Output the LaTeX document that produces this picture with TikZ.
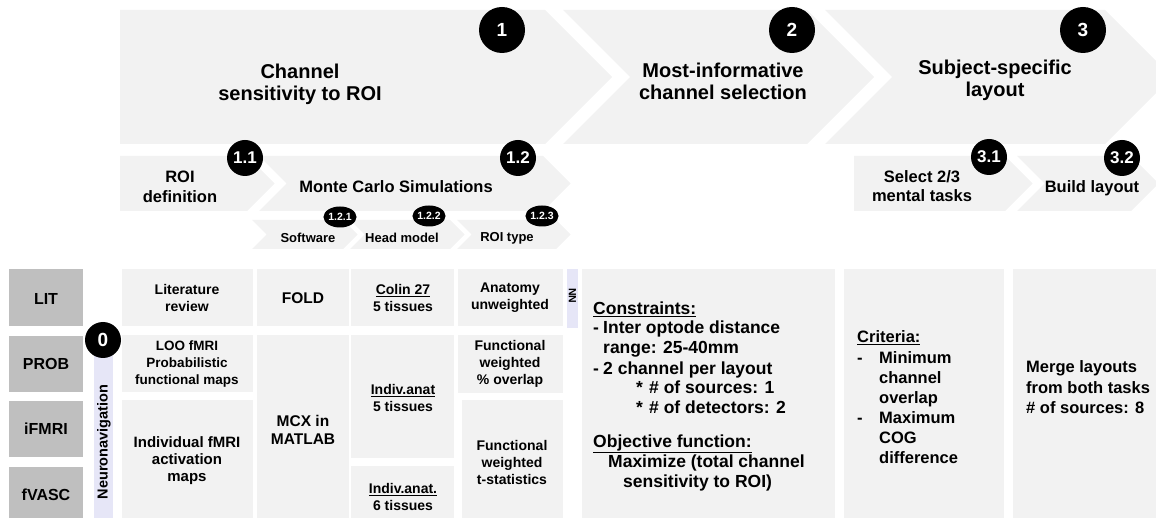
\documentclass[tikz,border=0pt]{standalone}
\usepackage{fontspec}
\setmainfont{Liberation Sans}
\usetikzlibrary{shapes.geometric}
\definecolor{panel}{HTML}{F2F2F2}
\definecolor{tagfill}{HTML}{BFBFBF}
\definecolor{navfill}{HTML}{E6E6F7}
\newcommand\fsz[2]{\fontsize{#1}{#2}\selectfont\bfseries}
\begin{document}
\begin{tikzpicture}[x=1pt,y=-1pt,
  title/.style={align=center,inner sep=0,font=\fsz{20}{22}},
  sub/.style={align=center,inner sep=0,font=\fsz{16.5}{19.5}},
  subsub/.style={align=center,inner sep=0,font=\fsz{13}{15}},
  celltxt/.style={align=center,inner sep=0,font=\fsz{14}{17}},
  bigcell/.style={align=center,inner sep=0,font=\fsz{15.5}{18}},
  tagtxt/.style={align=center,inner sep=0,font=\fsz{16}{18}},
  txtline/.style={anchor=base west,inner sep=0,font=\fsz{17.5}{20}},
  critline/.style={anchor=base west,inner sep=0,font=\fsz{16.5}{20}},
  badgeL/.style={circle,fill=black,text=white,inner sep=0,minimum size=46,font=\fsz{19}{20}},
  badgeM/.style={circle,fill=black,text=white,inner sep=0,minimum size=36,font=\fsz{17}{18}},
  badgeS/.style={ellipse,fill=black,text=white,inner sep=0,minimum width=31,minimum height=21,font=\fsz{10.5}{11}},
]
\useasboundingbox (0,0) rectangle (1156,518);
\clip (0,0) rectangle (1156,518);

% ---- main stages (chevrons) ----
\fill[panel] (120,10) -- (545,10) -- (612,77) -- (545,144) -- (120,144) -- cycle;
\fill[panel] (563,10) -- (807,10) -- (874,77) -- (807,144) -- (563,144) -- (630,77) -- cycle;
\fill[panel] (825,10) -- (1105,10) -- (1172,77) -- (1105,144) -- (825,144) -- (892,77) -- cycle;

% ---- sub-stages ----
\fill[panel] (120,156) -- (247,156) -- (274.5,183.5) -- (247,211) -- (120,211) -- cycle;
\fill[panel] (259,156) -- (543,156) -- (570.5,183.5) -- (543,211) -- (259,211) -- (286.5,183.5) -- cycle;
\fill[panel] (854,156) -- (1005,156) -- (1032.5,183.5) -- (1005,211) -- (854,211) -- cycle;
\fill[panel] (1017,156) -- (1131,156) -- (1158.5,183.5) -- (1131,211) -- (1017,211) -- (1044.5,183.5) -- cycle;

% ---- Monte Carlo components ----
\fill[panel] (252,220) -- (343,220) -- (357.5,234.5) -- (343,249) -- (252,249) -- (266.5,234.5) -- cycle;
\fill[panel] (350,220) -- (450,220) -- (464.5,234.5) -- (450,249) -- (350,249) -- (364.5,234.5) -- cycle;
\fill[panel] (457,220) -- (556,220) -- (570.5,234.5) -- (556,249) -- (457,249) -- (471.5,234.5) -- cycle;

% ---- stage titles ----
\node[title] (t1) at (300,84) {Channel\\sensitivity to ROI};
\node[title] (t2) at (723,81) {Most-informative\\channel selection};
\node[title] (t3) at (995,80) {Subject-specific\\layout};

\node[sub] (s11) at (180,187) {ROI\\definition};
\node[sub] (s12) at (396,187) {Monte Carlo Simulations};
\node[sub] (s31) at (922,186) {Select 2/3\\mental tasks};
\node[sub] (s32) at (1092,188) {Build layout};

\node[subsub] (s121) at (308,238) {Software};
\node[subsub] (s122) at (402,238) {Head model};
\node[subsub] (s123) at (507,238) {ROI type};

% ---- ROI source tags ----
\fill[tagfill] (9,269) rectangle (83,326);
\fill[tagfill] (9,336) rectangle (83,392);
\fill[tagfill] (9,401) rectangle (83,457);
\fill[tagfill] (9,467) rectangle (83,520);
\node[tagtxt] (lit) at (46,299) {LIT};
\node[tagtxt] (prob) at (46,364) {PROB};
\node[tagtxt] (ifmri) at (46,429) {iFMRI};
\node[tagtxt] (fvasc) at (46,495) {fVASC};

% ---- neuronavigation bar ----
\fill[navfill] (94,343) rectangle (113,520);
\node[rotate=90,inner sep=0,font=\fsz{14.5}{16}] (nav) at (104,442) {Neuronavigation};

% ---- ROI definition column ----
\fill[panel] (122,269) rectangle (253,326);
\fill[panel] (122,335) rectangle (253,392);
\fill[panel] (122,400) rectangle (253,520);
\node[celltxt] (litrev) at (187,298) {Literature\\review};
\node[celltxt,font=\fsz{13.5}{17}] (loo) at (187,364) {LOO fMRI\\Probabilistic\\functional maps};
\node[bigcell,font=\fsz{15}{17}] (indiv) at (187,461) {Individual fMRI\\activation\\maps};

% ---- software column ----
\fill[panel] (257,269) rectangle (349,326);
\fill[panel] (257,335) rectangle (349,520);
\node[bigcell] (fold) at (303,298) {FOLD};
\node[bigcell] (mcx) at (303,430) {MCX in\\MATLAB};

% ---- head model column ----
\fill[panel] (351,269) rectangle (454,326);
\fill[panel] (351,335) rectangle (454,458);
\fill[panel] (351,466) rectangle (454,520);
\node[celltxt] (colin) at (403,298) {\underline{Colin 27}\\5 tissues};
\node[celltxt] (anat5) at (403,398) {\underline{Indiv.anat}\\5 tissues};
\node[celltxt] (anat6) at (403,497) {\underline{Indiv.anat.}\\6 tissues};

% ---- ROI type column ----
\fill[panel] (458,269) rectangle (563,326);
\fill[panel] (458,335) rectangle (563,393);
\fill[panel] (462,400) rectangle (563,520);
\node[celltxt] (anatw) at (510,298) {Anatomy\\unweighted};
\node[celltxt] (overl) at (510,364) {Functional\\weighted\\\% overlap};
\node[celltxt] (tstat) at (512,462) {Functional\\weighted\\t-statistics};

% ---- NN marker ----
\fill[navfill] (567,269) rectangle (578,328);
\node[rotate=-90,inner sep=0,font=\fsz{10.5}{11}] (nn) at (572.5,296) {NN};

% ---- channel selection panel ----
\fill[panel] (582,269) rectangle (835,520);
\node[txtline] (c1) at (593,315) {\underline{Constraints:}};
\node[txtline] (c2) at (593,334) {\makebox[10pt][l]{-}Inter optode distance};
\node[txtline] (c3) at (603,353) {range: 25-40mm};
\node[txtline] (c4) at (593,374) {\makebox[10pt][l]{-}2 channel per layout};
\node[txtline] (c5) at (636,393) {\makebox[13pt][l]{*}\# of sources: 1};
\node[txtline] (c6) at (636,413) {\makebox[13pt][l]{*}\# of detectors: 2};
\node[txtline] (c7) at (593,447) {\underline{Objective function:}};
\node[txtline] (c8) at (608,467) {Maximize (total channel};
\node[txtline] (c9) at (623,487) {sensitivity to ROI)};

% ---- task selection panel ----
\fill[panel] (844,269) rectangle (1004,520);
\node[critline] (r1) at (857,343) {\underline{Criteria:}};
\node[critline] (r2) at (857,363) {\makebox[22pt][l]{-}Minimum};
\node[critline] (r3) at (879,383) {channel};
\node[critline] (r4) at (879,403) {overlap};
\node[critline] (r5) at (857,423) {\makebox[22pt][l]{-}Maximum};
\node[critline] (r6) at (879,443) {COG};
\node[critline] (r7) at (879,463) {difference};

% ---- layout panel ----
\fill[panel] (1013,269) rectangle (1160,520);
\node[critline] (m1) at (1026,373) {Merge layouts};
\node[critline] (m2) at (1026,393) {from both tasks};
\node[critline] (m3) at (1026,413) {\# of sources: 8};

% ---- step badges ----
\node[badgeL] (b1) at (502,30) {1};
\node[badgeL] (b2) at (792,30) {2};
\node[badgeL] (b3) at (1083,30) {3};
\node[badgeM] (b11) at (245,158) {1.1};
\node[badgeM] (b12) at (518,158) {1.2};
\node[badgeM] (b31) at (989,157) {3.1};
\node[badgeM] (b32) at (1122,158) {3.2};
\node[badgeS] (b121) at (340,217) {1.2.1};
\node[badgeS] (b122) at (429,216) {1.2.2};
\node[badgeS] (b123) at (542,216) {1.2.3};
\node[badgeM,font=\fsz{19}{20}] (b0) at (103,340) {0};
\end{tikzpicture}
\end{document}
